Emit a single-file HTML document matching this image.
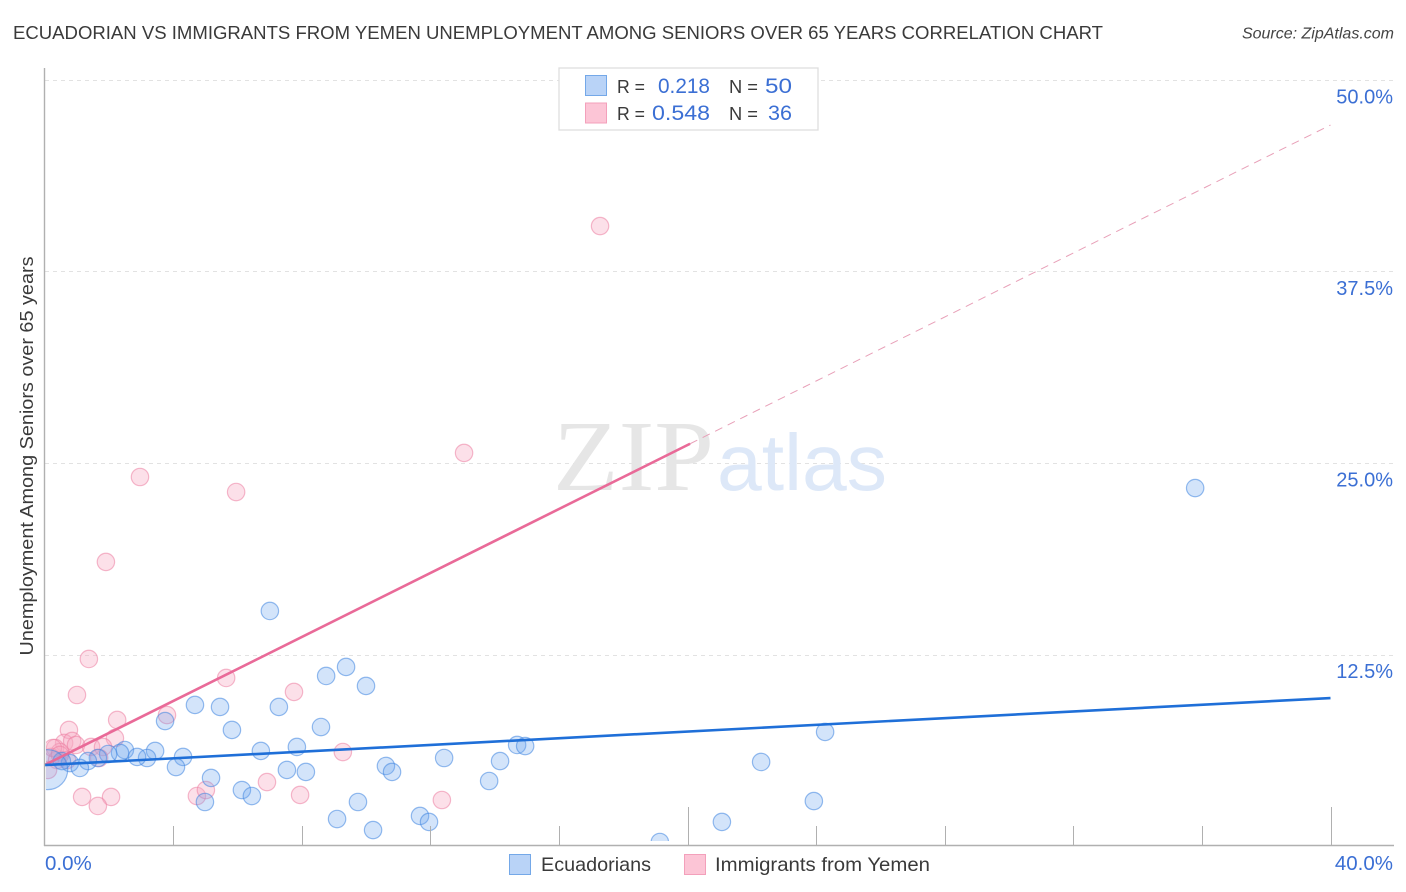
<!DOCTYPE html>
<html lang="en">
<head>
<meta charset="utf-8">
<title>Ecuadorian vs Immigrants from Yemen Correlation Chart</title>
<style>
html,body{margin:0;padding:0;background:#fff;width:1406px;height:892px;overflow:hidden}
svg{display:block}
text{font-family:"Liberation Sans",sans-serif}
</style>
</head>
<body>
<svg id="chart" xmlns="http://www.w3.org/2000/svg" width="1406" height="892" viewBox="0 0 1406 892">
  <defs><clipPath id="plot-clip"><rect x="46" y="60" width="1350" height="781"/></clipPath></defs>
  <text x="13" y="39" font-size="18.5" fill="#3a3a3a" textLength="1090" lengthAdjust="spacingAndGlyphs">ECUADORIAN VS IMMIGRANTS FROM YEMEN UNEMPLOYMENT AMONG SENIORS OVER 65 YEARS CORRELATION CHART</text>
  <text x="1394" y="38.5" font-size="16" font-style="italic" fill="#444" text-anchor="end">Source: ZipAtlas.com</text>
  <g id="grid"></g>
  <g>
    <text x="553" y="490" font-size="101" fill="#e6e6e6" style="font-family:'Liberation Serif',serif" textLength="161" lengthAdjust="spacingAndGlyphs">ZIP</text>
    <text x="717" y="490" font-size="80" fill="#dde8f8" textLength="170" lengthAdjust="spacingAndGlyphs">atlas</text>
  </g>
  <g id="points" clip-path="url(#plot-clip)"></g>
  <g id="trends"></g>
  <g id="axes"></g>
  <text transform="translate(33,456) rotate(-90)" font-size="18.5" fill="#3a3a3a" text-anchor="middle" textLength="399" lengthAdjust="spacingAndGlyphs">Unemployment Among Seniors over 65 years</text>
  <g>
    <rect x="559" y="68" width="259" height="62" fill="#fff" stroke="#dedede" stroke-width="1.3"/>
    <rect x="585.5" y="75.5" width="21" height="20" fill="#b9d3f7" stroke="#74a8e8" stroke-width="1"/>
    <rect x="585.5" y="103" width="21" height="20" fill="#fcc5d6" stroke="#f3a0bb" stroke-width="1"/>
    <text x="617" y="93" font-size="18.5" fill="#3a3a3a" textLength="28" lengthAdjust="spacingAndGlyphs">R =</text>
    <text x="658" y="93" font-size="21" fill="#3b6fd4" textLength="52" lengthAdjust="spacingAndGlyphs">0.218</text>
    <text x="729" y="93" font-size="18.5" fill="#3a3a3a" textLength="29" lengthAdjust="spacingAndGlyphs">N =</text>
    <text x="765" y="93" font-size="21" fill="#3b6fd4" textLength="27" lengthAdjust="spacingAndGlyphs">50</text>
    <text x="617" y="120" font-size="18.5" fill="#3a3a3a" textLength="28" lengthAdjust="spacingAndGlyphs">R =</text>
    <text x="652" y="120" font-size="21" fill="#3b6fd4" textLength="58" lengthAdjust="spacingAndGlyphs">0.548</text>
    <text x="729" y="120" font-size="18.5" fill="#3a3a3a" textLength="29" lengthAdjust="spacingAndGlyphs">N =</text>
    <text x="768" y="120" font-size="21" fill="#3b6fd4" textLength="24" lengthAdjust="spacingAndGlyphs">36</text>
  </g>
  <g>
    <rect x="509.5" y="854.5" width="21" height="20" fill="#b9d3f7" stroke="#74a8e8" stroke-width="1"/>
    <text x="541" y="871" font-size="19.5" fill="#3a3a3a" textLength="110" lengthAdjust="spacingAndGlyphs">Ecuadorians</text>
    <rect x="684.5" y="854.5" width="21" height="20" fill="#fcc5d6" stroke="#f3a0bb" stroke-width="1"/>
    <text x="715" y="871" font-size="19.5" fill="#3a3a3a" textLength="215" lengthAdjust="spacingAndGlyphs">Immigrants from Yemen</text>
  </g>
</svg>
<script>
const ecuadorianX = [35.79,7.01,9.38,8.76,10.00,4.68,5.46,7.29,8.60,5.83,3.75,24.28,14.70,14.95,7.85,6.73,3.44,2.50,2.35,1.98,3.19,2.88,4.31,12.43,14.17,1.66,1.35,0.79,0.54,1.10,4.09,10.62,10.81,8.13,7.54,22.29,5.18,13.83,6.14,6.45,9.75,4.99,23.93,9.10,11.68,11.96,10.22,21.07,19.14,0.10];
const ecuadorianY = [23.37,15.35,11.70,11.11,10.46,9.22,9.09,9.09,7.78,7.59,8.17,7.46,6.61,6.54,6.48,6.22,6.22,6.28,6.09,6.02,5.76,5.83,5.83,5.76,5.56,5.76,5.56,5.43,5.56,5.11,5.17,5.24,4.85,4.85,4.98,5.50,4.46,4.26,3.67,3.28,2.89,2.89,2.95,1.78,1.98,1.59,1.06,1.59,0.28,5.00];
const ecuadorianWeight = [1,1,1,1,1,1,1,1,1,1,1,1,1,1,1,1,1,1,1,1,1,1,1,1,1,1,1,1,1,1,1,1,1,1,1,1,1,1,1,1,1,1,1,1,1,1,1,1,1,5.4];
const yemenX = [17.28,13.05,2.97,5.96,1.91,1.38,5.65,7.76,1.01,3.81,2.26,0.76,2.19,9.28,0.61,0.86,0.98,0.33,0.48,1.45,1.82,1.70,0.20,0.39,0.70,1.17,2.07,1.66,4.74,5.02,6.92,7.95,12.36,0.11,0.26,0.48];
const yemenY = [40.46,25.66,24.09,23.11,18.55,12.22,10.98,10.07,9.87,8.56,8.24,7.59,7.06,6.15,6.74,6.87,6.61,6.41,6.15,6.48,6.48,5.76,5.83,5.63,5.63,3.22,3.22,2.63,3.28,3.67,4.19,3.35,3.02,4.98,6.41,5.96];
const ecuadorianTrend = [5.30,9.67];
const yemenTrend = [5.30,47.05];
const yemenTrendSolidEnd = 20.08;
const xTicks = [0,4,8,12,16,20,24,28,32,36,40];
const xMajorTicks = [20,40];
const xEndLabels = [0,40];
const yTicks = [12.5,25,37.5,50];

const SVGNS = 'http://www.w3.org/2000/svg';
const xScale = v => 44.5 + v * 32.15;
const yScale = v => 846.3 - v * 15.33;
const baseRadius = 8.7;

function make(parent, tag, attrs) {
  const el = document.createElementNS(SVGNS, tag);
  for (const k in attrs) el.setAttribute(k, attrs[k]);
  parent.appendChild(el);
  return el;
}

const grid = document.getElementById('grid');
yTicks.forEach(v => {
  const line = make(grid, 'line', {x1: 45, x2: 1394, y1: Math.round(yScale(v)) + 0.5, y2: Math.round(yScale(v)) + 0.5, stroke: '#e2e2e2', 'stroke-width': 1, 'stroke-dasharray': '4 4'});
  
  
});

const pts = document.getElementById('points');
yemenX.forEach((x, i) => {
  const c = make(pts, 'circle', {cx: xScale(x), cy: yScale(yemenY[i]), r: baseRadius, fill: '#f8a9c2', 'fill-opacity': 0.36, stroke: '#ec7fa2', 'stroke-opacity': 0.55, 'stroke-width': 1.2});
  
  
});
ecuadorianX.forEach((x, i) => {
  const c = make(pts, 'circle', {cx: xScale(x), cy: yScale(ecuadorianY[i]), r: baseRadius * ecuadorianWeight[i] / (ecuadorianWeight[i] > 1 ? 2.35 : 1), fill: '#6ea6ee', 'fill-opacity': 0.3, stroke: '#3f85e0', 'stroke-opacity': 0.55, 'stroke-width': 1.2});
  
  
});

const trends = document.getElementById('trends');
const dashed = make(trends, 'line', {x1: xScale(yemenTrendSolidEnd), y1: yScale(yemenTrend[0] + (yemenTrend[1] - yemenTrend[0]) * yemenTrendSolidEnd / 40), x2: xScale(40), y2: yScale(yemenTrend[1]), stroke: '#e8a0b8', 'stroke-width': 1, 'stroke-dasharray': '8 6'});


const solidPink = make(trends, 'line', {x1: xScale(0), y1: yScale(yemenTrend[0]), x2: xScale(yemenTrendSolidEnd), y2: yScale(yemenTrend[0] + (yemenTrend[1] - yemenTrend[0]) * yemenTrendSolidEnd / 40), stroke: '#e96a98', 'stroke-width': 2.6});


const solidBlue = make(trends, 'line', {x1: xScale(0), y1: yScale(ecuadorianTrend[0]), x2: xScale(40), y2: yScale(ecuadorianTrend[1]), stroke: '#1f6fd8', 'stroke-width': 2.6});



const axes = document.getElementById('axes');
const yAxis = make(axes, 'line', {x1: 44.5, x2: 44.5, y1: 68, y2: 846, stroke: '#b0b0b0', 'stroke-width': 1.4});


const xAxis = make(axes, 'line', {x1: 44, x2: 1394, y1: 845.5, y2: 845.5, stroke: '#b0b0b0', 'stroke-width': 1.4});


xTicks.slice(1).forEach(v => {
  const top = xMajorTicks.includes(v) ? 807 : 826;
  const t = make(axes, 'line', {x1: Math.round(xScale(v)) + 0.5, x2: Math.round(xScale(v)) + 0.5, y1: top, y2: 845, stroke: '#b0b0b0', 'stroke-width': 1});
  
  
});
yTicks.forEach(v => {
  const t = make(axes, 'text', {x: 1393, y: yScale(v) + 23.5, 'font-size': 20, fill: '#3b6fd4', 'text-anchor': 'end'});
  t.textContent = v.toFixed(1) + '%';
  
  
});
xEndLabels.forEach((v, i) => {
  const t = make(axes, 'text', {x: i === 0 ? 45 : 1393, y: 870, 'font-size': 20.5, fill: '#3b6fd4', 'text-anchor': i === 0 ? 'start' : 'end'});
  t.textContent = v.toFixed(1) + '%';
  
  
});
</script>
</body>
</html>
